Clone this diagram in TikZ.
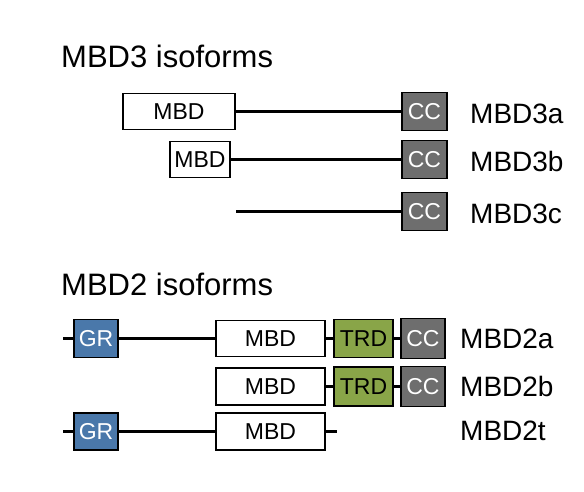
\documentclass[tikz,border=0pt]{standalone}
\usepackage{fontspec}
\setmainfont{Liberation Sans}
\usetikzlibrary{positioning}
\definecolor{grblue}{RGB}{74,120,170}
\definecolor{trdgreen}{RGB}{137,165,72}
\definecolor{ccgray}{RGB}{110,110,110}

\begin{document}
\begin{tikzpicture}[line cap=butt,line join=miter,x=1pt,y=-1pt,
    dom/.style={draw=black,line width=1.4pt,inner sep=0pt,font=\fontsize{23}{27}\selectfont},
    mbd/.style={dom,fill=white,minimum width=109pt,minimum height=36pt},
    gr/.style={dom,fill=grblue,text=white,minimum width=44pt,minimum height=38pt},
    trd/.style={dom,fill=trdgreen,minimum width=59pt,minimum height=38pt},
    cc/.style={dom,fill=ccgray,text=white,minimum width=45pt,minimum height=38pt},
    iso/.style={anchor=base west,inner sep=0pt,font=\fontsize{28}{32}\selectfont},
    head/.style={anchor=base west,inner sep=0pt,font=\fontsize{31}{36}\selectfont},
    link/.style={line width=2.8pt}]
      \useasboundingbox (0,0) rectangle (584,491);

      % MBD3 isoforms
      \node[head] (h3) at (61,67) {MBD3 isoforms};
      \node[mbd,minimum width=112pt] (m3a) at (179,111.5) {MBD};
      \node[cc] (c3a) at (424.5,111.5) {CC};
      \node[iso] (l3a) at (470,123) {MBD3a};
      \node[mbd,minimum width=60pt] (m3b) at (200,159.5) {MBD};
      \node[cc] (c3b) at (424.5,159.5) {CC};
      \node[iso] (l3b) at (470,171) {MBD3b};
      \coordinate (s3c) at (236,211.5);
      \node[cc] (c3c) at (424.5,211.5) {CC};
      \node[iso] (l3c) at (470,223) {MBD3c};
      \draw[link] (m3a) -- (c3a);
      \draw[link] (m3b) -- (c3b);
      \draw[link] (s3c) -- (c3c);

      % MBD2 isoforms
      \node[head] (h2) at (61,295) {MBD2 isoforms};
      \coordinate (s2a) at (63,338.5);
      \node[gr] (g2a) at (96,338.5) {GR};
      \node[mbd] (m2a) at (270.5,338.5) {MBD};
      \node[trd] (t2a) at (363.5,338.5) {TRD};
      \node[cc,minimum width=44pt,minimum height=40pt] (c2a) at (423,338.5) {CC};
      \node[iso] (l2a) at (460,348) {MBD2a};
      \node[mbd,minimum height=37pt] (m2b) at (270.5,386.5) {MBD};
      \node[trd,minimum height=39pt] (t2b) at (363.5,386.5) {TRD};
      \node[cc,minimum width=44pt,minimum height=40pt] (c2b) at (423,386.5) {CC};
      \node[iso] (l2b) at (460,396) {MBD2b};
      \coordinate (s2t) at (63,431.5);
      \node[gr,minimum height=37pt] (g2t) at (96,431.5) {GR};
      \node[mbd,minimum height=37pt] (m2t) at (270.5,431.5) {MBD};
      \coordinate (e2t) at (337,431.5);
      \node[iso] (l2t) at (460,440) {MBD2t};
      \draw[link] (s2a) -- (g2a) -- (m2a) -- (t2a) -- (c2a);
      \draw[link] (m2b) -- (t2b) -- (c2b);
      \draw[link] (s2t) -- (g2t) -- (m2t) -- (e2t);
\end{tikzpicture}
\end{document}
